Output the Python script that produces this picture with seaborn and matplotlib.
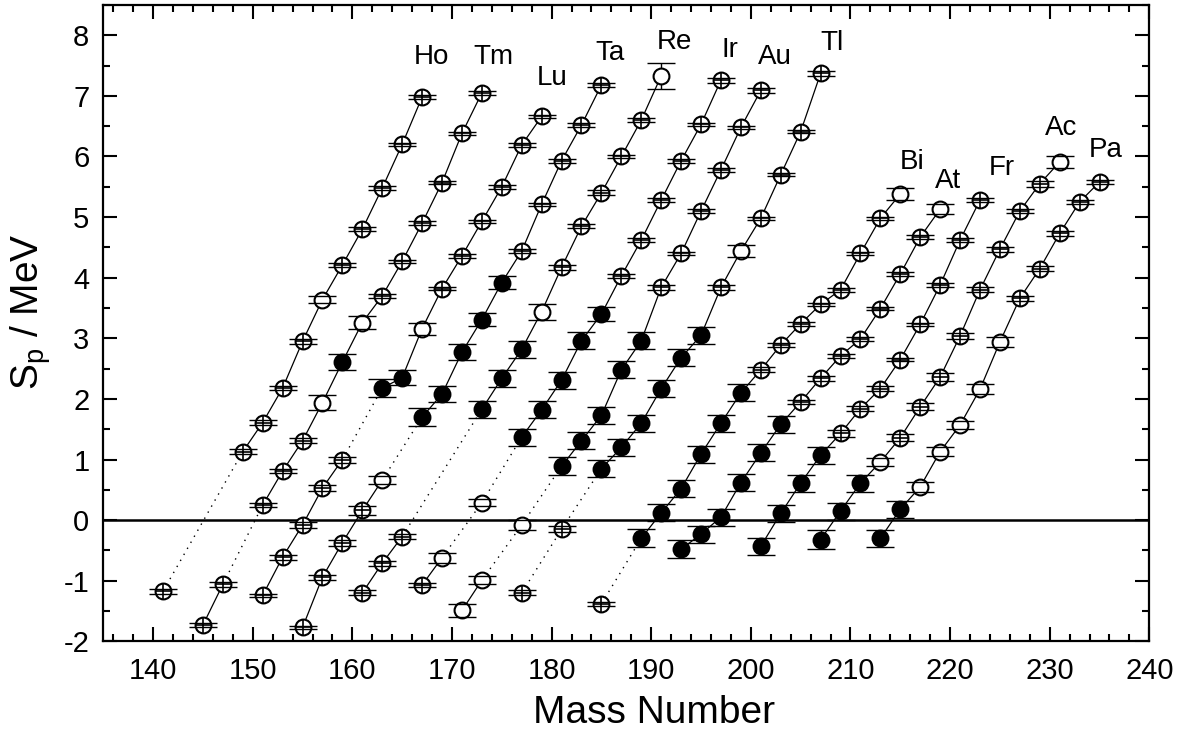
import numpy as np
import pandas as pd
import matplotlib
matplotlib.use("Agg")
import matplotlib.pyplot as plt
import seaborn as sns

# ---------------- data ----------------
# kind: x = crossed circle, o = open circle, f = filled circle
ho_mass = [141, 149, 151, 153, 155, 157, 159, 161, 163, 165, 167]
ho_sp = [-1.17, 1.13, 1.61, 2.18, 2.95, 3.64, 4.21, 4.80, 5.48, 6.20, 6.98]
ho_err = [0.04, 0.04, 0.04, 0.03, 0.04, 0.06, 0.03, 0.03, 0.03, 0.03, 0.03]
ho_kind = "xxxxxoxxxxx"

tm_mass = [145, 147, 151, 153, 155, 157, 159, 161, 163, 165, 167, 169, 171, 173]
tm_sp = [-1.73, -1.06, 0.25, 0.81, 1.31, 1.94, 2.61, 3.26, 3.70, 4.27, 4.90, 5.57, 6.38, 7.05]
tm_err = [0.03, 0.04, 0.04, 0.04, 0.04, 0.13, 0.13, 0.11, 0.03, 0.03, 0.03, 0.03, 0.03, 0.03]
tm_kind = "xxxxxofoxxxxxx"

lu_mass = [151, 153, 155, 157, 159, 163, 165, 167, 169, 171, 173, 175, 177, 179]
lu_sp = [-1.24, -0.61, -0.08, 0.53, 1.00, 2.18, 2.35, 3.16, 3.82, 4.36, 4.93, 5.50, 6.19, 6.66]
lu_err = [0.03, 0.04, 0.05, 0.05, 0.05, 0.15, 0.12, 0.10, 0.03, 0.03, 0.03, 0.03, 0.03, 0.03]
lu_kind = "xxxxxffoxxxxxx"

ta_mass = [155, 157, 159, 161, 163, 167, 169, 171, 173, 175, 177, 179, 181, 183, 185]
ta_sp = [-1.77, -0.94, -0.37, 0.16, 0.66, 1.70, 2.08, 2.77, 3.31, 3.92, 4.44, 5.21, 5.93, 6.52, 7.18]
ta_err = [0.03, 0.04, 0.05, 0.07, 0.07, 0.15, 0.13, 0.13, 0.11, 0.11, 0.04, 0.03, 0.03, 0.03, 0.04]
ta_kind = "xxxxofffffxxxxx"

re_mass = [161, 163, 165, 173, 175, 177, 179, 181, 183, 185, 187, 189, 191]
re_sp = [-1.20, -0.71, -0.27, 1.83, 2.34, 2.82, 3.44, 4.17, 4.85, 5.40, 6.00, 6.60, 7.33]
re_err = [0.04, 0.04, 0.04, 0.14, 0.14, 0.14, 0.13, 0.04, 0.03, 0.04, 0.03, 0.03, 0.22]
re_kind = "xxxfffoxxxxxo"

ir_mass = [167, 169, 173, 177, 179, 181, 183, 185, 187, 189, 191, 193, 195, 197]
ir_sp = [-1.07, -0.62, 0.29, 1.37, 1.82, 2.31, 2.96, 3.40, 4.03, 4.62, 5.28, 5.93, 6.53, 7.26]
ir_err = [0.03, 0.08, 0.06, 0.14, 0.14, 0.14, 0.14, 0.11, 0.03, 0.03, 0.03, 0.03, 0.03, 0.04]
ir_kind = "xoofffffxxxxxx"

au_mass = [171, 173, 177, 181, 183, 185, 187, 189, 191, 193, 195, 197, 199, 201]
au_sp = [-1.49, -0.99, -0.08, 0.89, 1.31, 1.73, 2.48, 2.96, 3.84, 4.40, 5.10, 5.78, 6.48, 7.09]
au_err = [0.11, 0.07, 0.08, 0.15, 0.14, 0.14, 0.14, 0.14, 0.04, 0.03, 0.03, 0.03, 0.03, 0.04]
au_kind = "ooofffffxxxxxx"

tl_mass = [177, 181, 185, 187, 189, 191, 193, 195, 197, 199, 201, 203, 205, 207]
tl_sp = [-1.20, -0.15, 0.85, 1.20, 1.60, 2.17, 2.68, 3.05, 3.84, 4.44, 4.98, 5.70, 6.41, 7.37]
tl_err = [0.04, 0.05, 0.14, 0.14, 0.14, 0.14, 0.14, 0.14, 0.04, 0.10, 0.03, 0.03, 0.03, 0.04]
tl_kind = "xxffffffxoxxxx"

bi_mass = [185, 189, 191, 193, 195, 197, 199, 201, 203, 205, 207, 209, 211, 213, 215]
bi_sp = [-1.38, -0.30, 0.12, 0.52, 1.09, 1.60, 2.10, 2.48, 2.89, 3.24, 3.56, 3.80, 4.40, 4.98, 5.38]
bi_err = [0.03, 0.15, 0.14, 0.14, 0.14, 0.14, 0.14, 0.04, 0.03, 0.03, 0.03, 0.03, 0.03, 0.03, 0.10]
bi_kind = "xffffffxxxxxxxo"

at_mass = [193, 195, 197, 199, 201, 203, 205, 207, 209, 211, 213, 215, 217, 219]
at_sp = [-0.48, -0.23, 0.05, 0.62, 1.11, 1.58, 1.95, 2.34, 2.71, 2.99, 3.49, 4.06, 4.67, 5.13]
at_err = [0.15, 0.14, 0.14, 0.14, 0.14, 0.14, 0.04, 0.04, 0.03, 0.03, 0.03, 0.03, 0.03, 0.08]
at_kind = "ffffffxxxxxxxo"

fr_mass = [201, 203, 205, 207, 209, 211, 213, 215, 217, 219, 221, 223]
fr_sp = [-0.43, 0.11, 0.61, 1.07, 1.43, 1.84, 2.17, 2.65, 3.23, 3.88, 4.62, 5.28]
fr_err = [0.14, 0.14, 0.14, 0.14, 0.06, 0.04, 0.04, 0.03, 0.03, 0.03, 0.03, 0.03]
fr_kind = "ffffxxxxxxxx"

ac_mass = [207, 209, 211, 213, 215, 217, 219, 221, 223, 225, 227, 229, 231]
ac_sp = [-0.32, 0.15, 0.61, 0.96, 1.36, 1.87, 2.36, 3.04, 3.80, 4.47, 5.10, 5.55, 5.91]
ac_err = [0.15, 0.14, 0.14, 0.07, 0.06, 0.06, 0.07, 0.05, 0.04, 0.04, 0.04, 0.05, 0.10]
ac_kind = "fffoxxxxxxxxo"

pa_mass = [213, 215, 217, 219, 221, 223, 225, 227, 229, 231, 233, 235]
pa_sp = [-0.30, 0.18, 0.55, 1.13, 1.57, 2.16, 2.94, 3.66, 4.15, 4.73, 5.25, 5.58]
pa_err = [0.14, 0.14, 0.08, 0.07, 0.07, 0.08, 0.08, 0.04, 0.04, 0.04, 0.04, 0.04]
pa_kind = "ffoooooxxxxx"

element_names = ["Ho", "Tm", "Lu", "Ta", "Re", "Ir", "Au", "Tl", "Bi", "At", "Fr", "Ac", "Pa"]
label_mass = [167.9, 174.2, 180.1, 185.9, 192.3, 197.9, 202.4, 208.1, 216.2, 219.8, 225.2, 231.1, 235.6]
label_sp = [7.64, 7.64, 7.29, 7.71, 7.89, 7.75, 7.64, 7.87, 5.91, 5.59, 5.81, 6.47, 6.11]

series = [
    (ho_mass, ho_sp, ho_err, ho_kind), (tm_mass, tm_sp, tm_err, tm_kind),
    (lu_mass, lu_sp, lu_err, lu_kind), (ta_mass, ta_sp, ta_err, ta_kind),
    (re_mass, re_sp, re_err, re_kind), (ir_mass, ir_sp, ir_err, ir_kind),
    (au_mass, au_sp, au_err, au_kind), (tl_mass, tl_sp, tl_err, tl_kind),
    (bi_mass, bi_sp, bi_err, bi_kind), (at_mass, at_sp, at_err, at_kind),
    (fr_mass, fr_sp, fr_err, fr_kind), (ac_mass, ac_sp, ac_err, ac_kind),
    (pa_mass, pa_sp, pa_err, pa_kind),
]

# ---------------- build tables ----------------
rows, solid_rows, dot_rows = [], [], []
seg = 0
dseg = 0
for name, (m, s, e, k) in zip(element_names, series):
    for i in range(len(m)):
        rows.append(dict(el=name, A=m[i], Sp=s[i], err=e[i], kind=k[i]))
        if i > 0 and m[i] - m[i - 1] > 2:
            seg += 1
            dot_rows.append(dict(seg=dseg, A=m[i - 1], Sp=s[i - 1]))
            dot_rows.append(dict(seg=dseg, A=m[i], Sp=s[i]))
            dseg += 1
        solid_rows.append(dict(seg=seg, A=m[i], Sp=s[i]))
    seg += 1

df = pd.DataFrame(rows)
solid_df = pd.DataFrame(solid_rows)
dot_df = pd.DataFrame(dot_rows)

# ---------------- style ----------------
sns.set_theme(style="ticks", rc={
    "axes.edgecolor": "black", "xtick.color": "black", "ytick.color": "black",
    "text.color": "black", "axes.labelcolor": "black",
})
plt.rcParams["font.family"] = ["Liberation Sans", "DejaVu Sans"]
plt.rcParams["mathtext.fontset"] = "custom"
plt.rcParams["mathtext.rm"] = "Liberation Sans"
plt.rcParams["mathtext.it"] = "Liberation Sans:italic"
plt.rcParams["axes.unicode_minus"] = False

fig, ax = plt.subplots(figsize=(12.04, 7.42), dpi=100)
fig.subplots_adjust(left=0.0858, right=0.9546, top=0.9933, bottom=0.1356)

# zero line
ax.axhline(0, color="black", lw=1.8, zorder=1)

# connecting lines
sns.lineplot(data=solid_df, x="A", y="Sp", units="seg", estimator=None, sort=False,
             color="black", lw=0.9, legend=False, ax=ax, zorder=1)
sns.lineplot(data=dot_df, x="A", y="Sp", units="seg", estimator=None, sort=False,
             color="black", lw=1.0, linestyle=(0, (1, 4)), legend=False, ax=ax, zorder=1)

# error bars: vertical line below markers, caps on top
eb = ax.errorbar(df["A"], df["Sp"], yerr=df["err"], fmt="none", ecolor="black",
                 elinewidth=1.0, capsize=10, capthick=1.0, zorder=2)
for cap in eb[1]:
    cap.set_zorder(5)

ms = 130
filled = df[df.kind == "f"]
hollow = df[df.kind != "f"]
crossed = df[df.kind == "x"]
sns.scatterplot(data=filled, x="A", y="Sp", s=ms, color="black", edgecolor="black",
                linewidth=1.5, ax=ax, zorder=3, legend=False)
sns.scatterplot(data=hollow, x="A", y="Sp", s=ms, facecolor="white", edgecolor="black",
                linewidth=1.5, ax=ax, zorder=3, legend=False)
ax.scatter(crossed["A"], crossed["Sp"], s=ms, marker="+", color="black",
           linewidths=1.2, zorder=4)

# element labels
for nm, lx, ly in zip(element_names, label_mass, label_sp):
    ax.text(lx, ly, nm, ha="center", va="center", fontsize=20)

# axes
ax.set_xlim(135, 240)
ax.set_ylim(-2, 8.5)
ax.set_xticks(np.arange(140, 241, 10))
ax.set_xticks(np.arange(136, 241, 2), minor=True)
ax.set_yticks(np.arange(-2, 9, 1))
ax.set_yticks(np.arange(-2, 8.6, 0.5), minor=True)
ax.tick_params(which="both", direction="in", top=True, right=True, width=1.5,
               labelsize=21)
ax.tick_params(axis="x", which="major", length=10, pad=11)
ax.tick_params(axis="y", which="major", length=10, pad=10)
ax.tick_params(which="minor", length=5)
for sp in ax.spines.values():
    sp.set_linewidth(1.6)

ax.set_xlabel("Mass Number", fontsize=28)
ax.set_ylabel("S$_\\mathrm{p}$ / MeV", fontsize=28)
ax.xaxis.label.set_va("center")
ax.yaxis.label.set_va("center")
ax.xaxis.set_label_coords(0.5265, -0.113)
ax.yaxis.set_label_coords(-0.069, 0.5176)

fig.savefig("out.png", dpi=100)
